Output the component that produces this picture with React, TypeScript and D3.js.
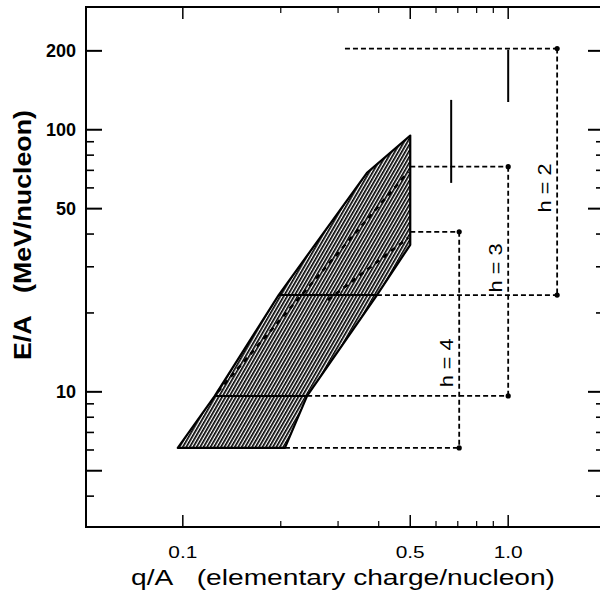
import * as d3 from "d3";

// ── Axis ticks ─────────────────────────────────────────────
const Q_MAJOR = [0.1, 0.5, 1.0];
const Q_LABELS = ["0.1", "0.5", "1.0"];
const Q_MINOR = [0.2, 0.3, 0.4, 0.6, 0.7, 0.8, 0.9];
const E_MAJOR = [5, 10, 50, 100, 200];
const E_LABELS = ["", "10", "50", "100", "200"];
const E_MINOR = [4, 6, 7, 8, 9, 20, 30, 40, 60, 70, 80, 90];

// ── Accessible region (hatched band), outline in (q/A, E/A) ──
const BAND_Q = [0.0965, 0.1254, 0.197, 0.368, 0.5, 0.5, 0.395, 0.241, 0.206];
const BAND_E = [6.11, 9.65, 23.4, 68.5, 95, 36.4, 23.4, 9.65, 6.11];

// solid steps across the band
const STEP_E = [9.65, 23.4];
const STEP_Q_LO = [0.1254, 0.197];
const STEP_Q_HI = [0.241, 0.395];

// dashed tracks inside the band
const TRACK_Q = [[0.128, 0.493], [0.279, 0.493]];
const TRACK_E = [[10, 69], [22.4, 38.7]];

// ── Harmonic boxes ─────────────────────────────────────────
const H_LABELS = ["h = 2", "h = 3", "h = 4"];
const H_Q = [1.414, 1.0, 0.707];
const H_E_TOP = [204, 72.3, 40.8];
const H_E_BOT = [23.4, 9.65, 6.11];
const H_Q_TOP_FROM = [0.315, 0.5, 0.5];
const H_Q_BOT_FROM = [0.395, 0.241, 0.206];
const H_LABEL_E = [60, 29.7, 12.9];

// solid vertical bars
const BAR_Q = [0.668, 1.0];
const BAR_E_LO = [62.7, 127.6];
const BAR_E_HI = [130, 202];

const width = 600;
const height = 592;
const left = 86, right = 604, top = 7, bottom = 527;

const x = d3.scaleLog().domain([0.0504, 1.97]).range([left, right]);
const y = d3.scaleLog().domain([3.05, 294]).range([bottom, top]);

const FONT = "'Liberation Sans', Arial, Helvetica, sans-serif";
const DASH = "5 3";
const GAP = "\u00a0\u00a0\u00a0";

export default function App() {
  const bandPts: [number, number][] = BAND_Q.map((q, i) => [x(q), y(BAND_E[i])]);
  const bandPath = d3.line()(bandPts) + "Z";

  const majLenX = 12, minLenX = 6, majLenY = 16, minLenY = 8;

  return (
    <svg width={width} height={height} viewBox={`0 0 ${width} ${height}`}
      style={{ position: "absolute", left: 0, top: 0, background: "#fff" }}>
      <defs>
        <pattern id="hatch" width={3} height={3} patternUnits="userSpaceOnUse"
          patternTransform="rotate(30)">
          <rect x={0} y={0} width={3} height={3} fill="#fff" />
          <rect x={0} y={0} width={1.7} height={3} fill="#000" />
        </pattern>
      </defs>

      {/* frame */}
      <rect x={left} y={top} width={right - left} height={bottom - top}
        fill="none" stroke="#000" strokeWidth={2} />

      {/* x ticks, bottom and top */}
      {Q_MAJOR.map((q) => (
        <g key={`qM${q}`}>
          <line x1={x(q)} x2={x(q)} y1={bottom} y2={bottom - majLenX} stroke="#000" strokeWidth={1.5} />
          <line x1={x(q)} x2={x(q)} y1={top} y2={top + majLenX} stroke="#000" strokeWidth={1.5} />
        </g>
      ))}
      {Q_MINOR.map((q) => (
        <g key={`qm${q}`}>
          <line x1={x(q)} x2={x(q)} y1={bottom} y2={bottom - minLenX} stroke="#000" strokeWidth={1.2} />
          <line x1={x(q)} x2={x(q)} y1={top} y2={top + minLenX} stroke="#000" strokeWidth={1.2} />
        </g>
      ))}
      {Q_MAJOR.map((q, i) => (
        <text key={`ql${q}`} x={x(q)} y={558} textAnchor="middle" fontFamily={FONT}
          fontSize={17} textLength={29} lengthAdjust="spacingAndGlyphs">{Q_LABELS[i]}</text>
      ))}

      {/* y ticks, left and right */}
      {E_MAJOR.map((e) => (
        <g key={`eM${e}`}>
          <line x1={left} x2={left + majLenY} y1={y(e)} y2={y(e)} stroke="#000" strokeWidth={2} />
          <line x1={right} x2={right - majLenY} y1={y(e)} y2={y(e)} stroke="#000" strokeWidth={2} />
        </g>
      ))}
      {E_MINOR.map((e) => (
        <g key={`em${e}`}>
          <line x1={left} x2={left + minLenY} y1={y(e)} y2={y(e)} stroke="#000" strokeWidth={1.6} />
          <line x1={right} x2={right - minLenY} y1={y(e)} y2={y(e)} stroke="#000" strokeWidth={1.6} />
        </g>
      ))}
      {E_MAJOR.map((e, i) => (
        <text key={`el${e}`} x={76} y={y(e)} dy="0.36em" textAnchor="end" fontFamily={FONT}
          fontSize={18} fontWeight="bold">{E_LABELS[i]}</text>
      ))}

      {/* axis titles */}
      <text x={343} y={585} textAnchor="middle" fontFamily={FONT} fontSize={22}
        textLength={424} lengthAdjust="spacingAndGlyphs">
        {`q/A${GAP}(elementary charge/nucleon)`}
      </text>
      <text transform={`translate(31,235) rotate(-90)`} textAnchor="middle" fontFamily={FONT}
        fontSize={24} fontWeight={600} textLength={250} lengthAdjust="spacingAndGlyphs">
        {`E/A${GAP}(MeV/nucleon)`}
      </text>

      {/* hatched band */}
      <path d={bandPath} fill="url(#hatch)" stroke="#000" strokeWidth={2.2} strokeLinejoin="round" />
      {STEP_E.map((e, i) => (
        <line key={`st${i}`} x1={x(STEP_Q_LO[i])} x2={x(STEP_Q_HI[i])} y1={y(e)} y2={y(e)}
          stroke="#000" strokeWidth={2} />
      ))}
      {TRACK_Q.map((qs, i) => (
        <line key={`tr${i}`} x1={x(qs[0])} x2={x(qs[1])} y1={y(TRACK_E[i][0])} y2={y(TRACK_E[i][1])}
          stroke="#000" strokeWidth={2.6} strokeDasharray="5 5" />
      ))}

      {/* harmonic boxes */}
      {H_Q.map((q, i) => (
        <g key={`h${i}`}>
          <line x1={x(H_Q_TOP_FROM[i])} x2={x(q)} y1={y(H_E_TOP[i])} y2={y(H_E_TOP[i])}
            stroke="#000" strokeWidth={1.8} strokeDasharray={DASH} />
          <line x1={x(H_Q_BOT_FROM[i])} x2={x(q)} y1={y(H_E_BOT[i])} y2={y(H_E_BOT[i])}
            stroke="#000" strokeWidth={1.8} strokeDasharray={DASH} />
          <line x1={x(q)} x2={x(q)} y1={y(H_E_TOP[i])} y2={y(H_E_BOT[i])}
            stroke="#000" strokeWidth={1.8} strokeDasharray={DASH} />
          <circle cx={x(q)} cy={y(H_E_TOP[i])} r={2.6} fill="#000" />
          <circle cx={x(q)} cy={y(H_E_BOT[i])} r={2.6} fill="#000" />
          <text transform={`translate(${x(q) - 13},${y(H_LABEL_E[i])}) rotate(-90)`}
            textAnchor="middle" dominantBaseline="central" fontFamily={FONT} fontSize={19}
            textLength={49} lengthAdjust="spacingAndGlyphs">{H_LABELS[i]}</text>
        </g>
      ))}

      {/* solid bars */}
      {BAR_Q.map((q, i) => (
        <line key={`b${i}`} x1={x(q)} x2={x(q)} y1={y(BAR_E_LO[i])} y2={y(BAR_E_HI[i])}
          stroke="#000" strokeWidth={2} />
      ))}
    </svg>
  );
}
